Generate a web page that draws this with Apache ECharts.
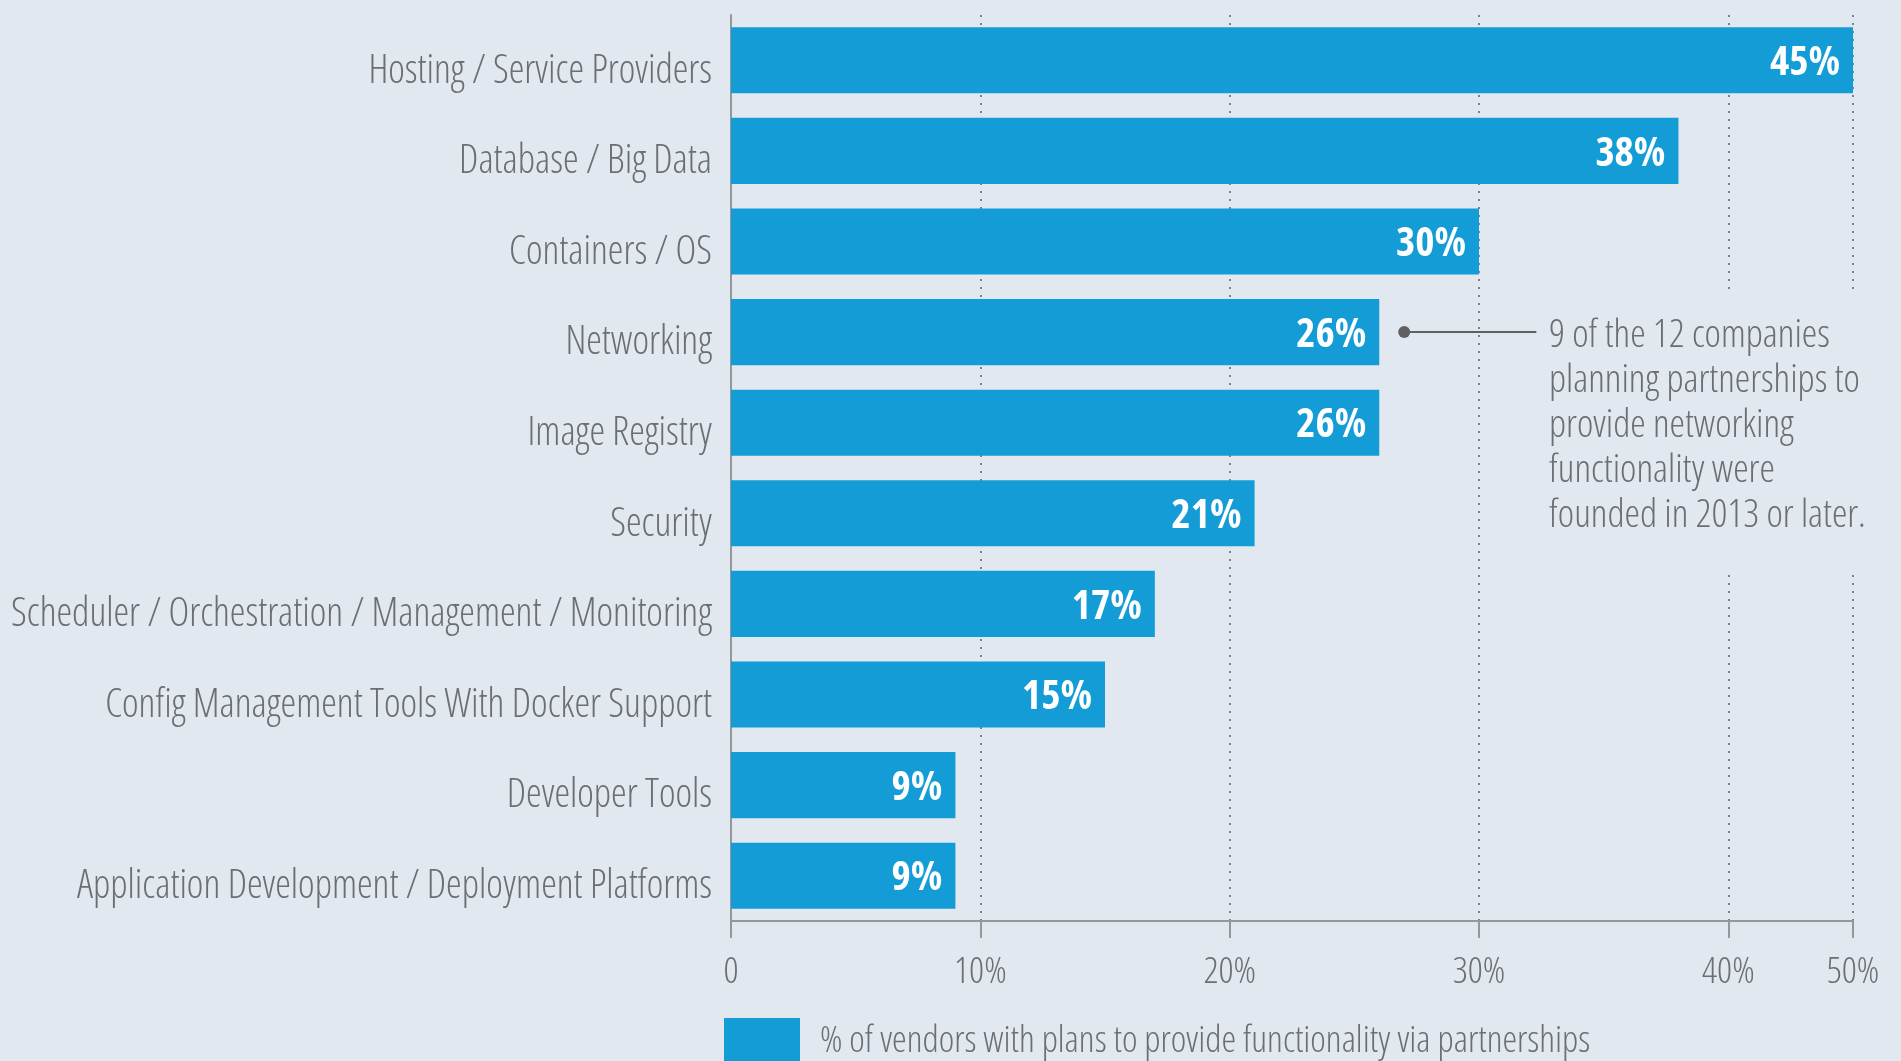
<!DOCTYPE html>
<html>
<head>
<meta charset="utf-8">
<script src="https://cdn.jsdelivr.net/npm/echarts@6/dist/echarts.min.js"></script>
<style>
  html, body { margin: 0; padding: 0; background: #e1e8f0; }
  #chart { width: 1901px; height: 1061px; }
</style>
</head>
<body>
<div id="chart"></div>
<script>
// Functional areas, top to bottom
const categories = [
  'Hosting / Service Providers',
  'Database / Big Data',
  'Containers / OS',
  'Networking',
  'Image Registry',
  'Security',
  'Scheduler / Orchestration / Management / Monitoring',
  'Config Management Tools With Docker Support',
  'Developer Tools',
  'Application Development / Deployment Platforms'
];

// Share of vendors (%) planning to provide each area via partnerships
const partnershipShare = [45, 38, 30, 26, 26, 21, 17, 15, 9, 9];

// Axis tick values and the text printed under each of them
const tickValues = [0, 10, 20, 30, 40, 45];
const tickLabels = ['0', '10%', '20%', '30%', '40%', '50%'];

const seriesName = '% of vendors with plans to provide functionality via partnerships';

// Callout attached to the Networking bar
const noteCategory = 'Networking';
const noteLineFrom = 27;
const noteLineTo = 32.3;
const noteText = [
  '9 of the 12 companies',
  'planning partnerships to',
  'provide networking',
  'functionality were',
  'founded in 2013 or later.'
];

const BAR = '#149cd6';
const BG = '#e1e8f0';
const TEXT = '#6d6e71';
const AXIS = '#959799';
const FAMILY = 'Open Sans';
const STRETCH = 'condensed';

const chart = echarts.init(document.getElementById('chart'), null, { renderer: 'canvas' });

chart.setOption({
  backgroundColor: BG,
  animation: false,
  grid: { left: 731, top: 15, width: 1122, height: 906, containLabel: false },
  legend: {
    data: [seriesName],
    left: 724,
    top: 1018,
    padding: 0,
    itemWidth: 76,
    itemHeight: 46,
    icon: 'rect',
    selectedMode: false,
    textStyle: {
      color: TEXT, fontFamily: FAMILY, fontStyle: STRETCH, fontWeight: 300, fontSize: 37,
      padding: [11, 0, 0, 15]
    }
  },
  xAxis: {
    type: 'value',
    min: 0,
    max: 45,
    interval: 10,
    axisLine: { show: true, lineStyle: { color: AXIS, width: 2 } },
    axisTick: { show: true, length: 17, lineStyle: { color: AXIS, width: 2 } },
    axisLabel: {
      margin: 33,
      color: TEXT, fontFamily: FAMILY, fontStyle: STRETCH, fontWeight: 300, fontSize: 37,
      showMinLabel: true, showMaxLabel: true,
      formatter: function (v) {
        const i = tickValues.indexOf(v);
        return i >= 0 ? tickLabels[i] : '';
      }
    },
    splitLine: {
      show: true,
      lineStyle: { color: '#5f6062', width: 1.5, type: [2, 6] }
    }
  },
  yAxis: {
    type: 'category',
    data: categories,
    inverse: true,
    axisLine: { show: true, lineStyle: { color: AXIS, width: 2 } },
    axisTick: { show: false },
    axisLabel: {
      margin: 19,
      color: TEXT, fontFamily: FAMILY, fontStyle: STRETCH, fontWeight: 300, fontSize: 39.5,
      verticalAlign: 'top',
      lineHeight: 22
    },
    splitLine: { show: false }
  },
  series: [{
    name: seriesName,
    type: 'bar',
    data: partnershipShare,
    barWidth: '73%',
    itemStyle: { color: BAR },
    label: {
      show: true,
      position: 'insideRight',
      distance: 13,
      offset: [0, 3],
      formatter: '{c}%',
      color: '#ffffff',
      fontFamily: FAMILY, fontStyle: STRETCH, fontWeight: 'bold', fontSize: 41
    },
    markLine: {
      silent: true,
      symbol: ['circle', 'none'],
      symbolSize: 12,
      label: { show: false },
      lineStyle: { color: '#5f6062', width: 2, type: 'solid' },
      data: [[
        { coord: [noteLineFrom, noteCategory] },
        { coord: [noteLineTo, noteCategory] }
      ]]
    }
  }],
  graphic: [{
    type: 'text',
    left: 1539,
    top: 291,
    z: 10,
    style: {
      text: noteText.join('\n'),
      fill: TEXT,
      font: STRETCH + ' 300 39px "' + FAMILY + '"',
      lineHeight: 45,
      backgroundColor: BG,
      padding: [22, 30, 33, 10]
    }
  }]
});
</script>
</body>
</html>
